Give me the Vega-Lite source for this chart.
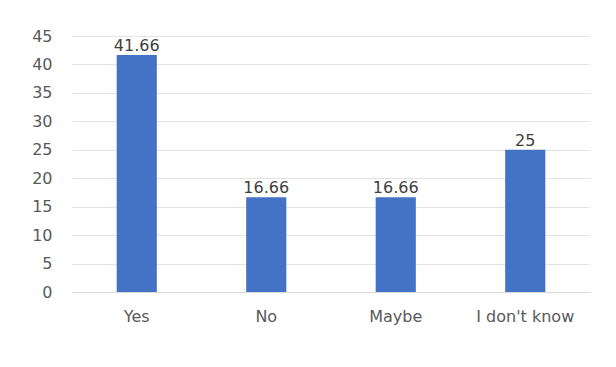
{
  "$schema": "https://vega.github.io/schema/vega-lite/v6.json",
  "autosize": {"type": "none"},
  "width": 518,
  "height": 256,
  "padding": {"left": 72, "top": 36, "right": 26, "bottom": 75},
  "background": "white",
  "config": {
    "view": {"stroke": null},
    "font": "DejaVu Sans"
  },
  "data": {
    "values": [
      {"answer": "Yes", "value": 41.66},
      {"answer": "No", "value": 16.66},
      {"answer": "Maybe", "value": 16.66},
      {"answer": "I don't know", "value": 25}
    ]
  },
  "encoding": {
    "x": {
      "field": "answer", "type": "nominal", "sort": null,
      "scale": {"paddingInner": 0.69, "paddingOuter": 0.345},
      "axis": {"title": null, "labelAngle": 0, "labelFontSize": 16, "labelColor": "#595959", "ticks": false, "domainColor": "#d9d9d9", "labelPadding": 16}
    },
    "y": {
      "field": "value", "type": "quantitative",
      "scale": {"domain": [0, 45]},
      "axis": {"title": null, "values": [0,5,10,15,20,25,30,35,40,45], "labelFontSize": 16, "labelColor": "#595959", "domain": false, "ticks": false, "gridColor": "#e3e3e3", "labelPadding": 20}
    }
  },
  "layer": [
    {"mark": {"type": "bar", "color": "#4472C4"}},
    {"mark": {"type": "text", "dy": -9, "fontSize": 16, "color": "#404040"}, "encoding": {"text": {"field": "value", "type": "quantitative"}}}
  ]
}
